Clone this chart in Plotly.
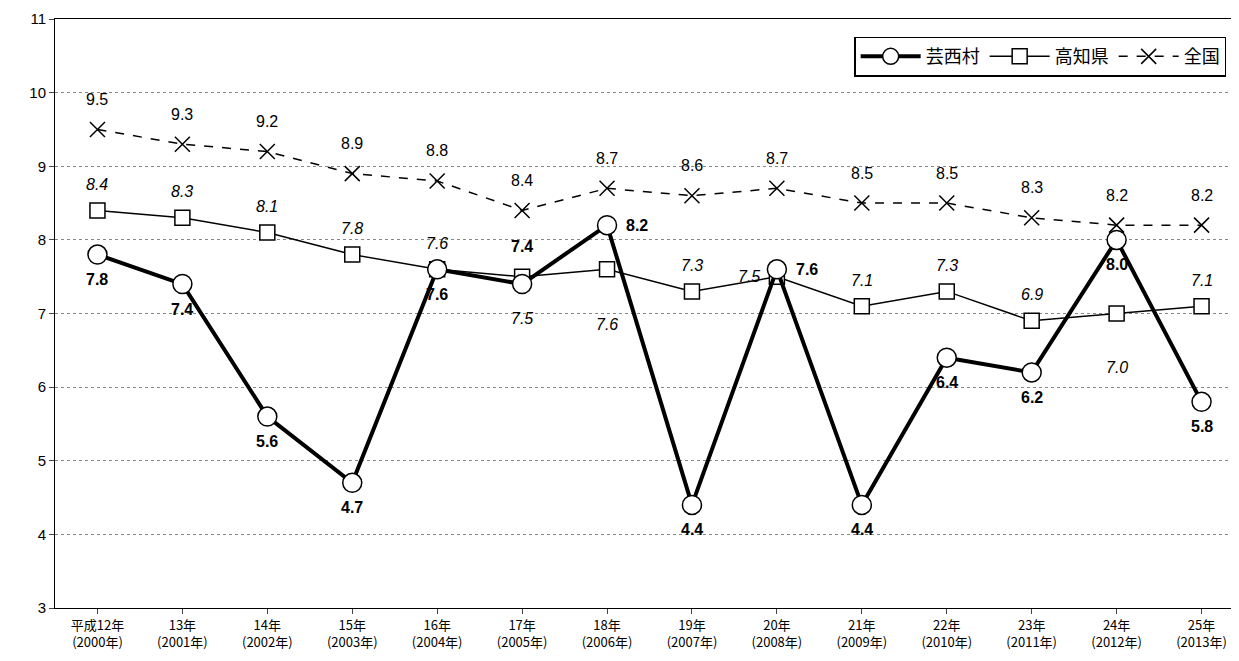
import plotly.graph_objects as go

cats = ["平成12年<br>(2000年)","13年<br>(2001年)","14年<br>(2002年)","15年<br>(2003年)","16年<br>(2004年)","17年<br>(2005年)","18年<br>(2006年)","19年<br>(2007年)","20年<br>(2008年)","21年<br>(2009年)","22年<br>(2010年)","23年<br>(2011年)","24年<br>(2012年)","25年<br>(2013年)"]
geisei = [7.8,7.4,5.6,4.7,7.6,7.4,8.2,4.4,7.6,4.4,6.4,6.2,8.0,5.8]
kochi = [8.4,8.3,8.1,7.8,7.6,7.5,7.6,7.3,7.5,7.1,7.3,6.9,7.0,7.1]
zenkoku = [9.5,9.3,9.2,8.9,8.8,8.4,8.7,8.6,8.7,8.5,8.5,8.3,8.2,8.2]

# label offsets (pixels, +down) per point
g_off = [(0,25)]*14
g_off = list(g_off); g_off[5] = (0,-38); g_off[6] = (30,0); g_off[8] = (30,0)
k_off = [(0,-26)]*14
k_off = list(k_off); k_off[5] = (0,42); k_off[6] = (0,55); k_off[8] = (-28,0); k_off[12] = (0,54)

font = "Noto Sans CJK JP"
fig = go.Figure()
fig.add_trace(go.Scatter(x=cats, y=zenkoku, name="全国", mode="lines+markers",
    line=dict(color="black", width=1.5, dash="dash"),
    marker=dict(symbol="x-thin", size=15, line=dict(color="black", width=1.5))))
fig.add_trace(go.Scatter(x=cats, y=kochi, name="高知県", mode="lines+markers",
    line=dict(color="black", width=1.5),
    marker=dict(symbol="square", size=15, color="white", line=dict(color="black", width=1.5))))
fig.add_trace(go.Scatter(x=cats, y=geisei, name="芸西村", mode="lines+markers",
    line=dict(color="black", width=4),
    marker=dict(symbol="circle", size=19, color="white", line=dict(color="black", width=1.5))))

ann = []
for i, c in enumerate(cats):
    ann.append(dict(x=c, y=zenkoku[i], text=f"{zenkoku[i]:.1f}", yshift=30, showarrow=False,
                    font=dict(size=16, family="Arial")))
    ann.append(dict(x=c, y=kochi[i], text=f"<i>{kochi[i]:.1f}</i>", xshift=k_off[i][0], yshift=-k_off[i][1],
                    showarrow=False, font=dict(size=16, family="Arial")))
    ann.append(dict(x=c, y=geisei[i], text=f"<b>{geisei[i]:.1f}</b>", xshift=g_off[i][0], yshift=-g_off[i][1],
                    showarrow=False, font=dict(size=16, family="Arial")))

fig.update_layout(width=1239, height=661, plot_bgcolor="white", paper_bgcolor="white",
    margin=dict(l=47, r=2, t=9, b=61), font=dict(family=font, color="black"),
    annotations=ann,
    legend=dict(x=0.985, y=0.97, xanchor="right", yanchor="top", orientation="h", itemwidth=60,
        traceorder="reversed", bordercolor="black", borderwidth=1.5, font=dict(size=18, family=font)),
    showlegend=True)
fig.update_xaxes(range=[-0.5, 13.5], showline=True, linecolor="black", linewidth=1, mirror=True, ticks="outside",
    tickfont=dict(size=13), showgrid=False)
fig.update_yaxes(range=[3,11], dtick=1, showline=True, linecolor="black", linewidth=1, mirror=True,
    ticks="outside", tickfont=dict(size=15, family="Arial"), gridcolor="#888", griddash="dot", zeroline=False)
fig.write_html("out.html")
